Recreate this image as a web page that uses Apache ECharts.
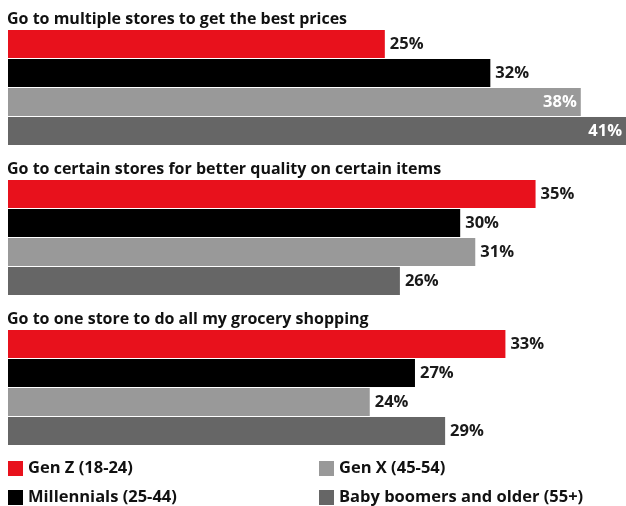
<!DOCTYPE html>
<html>
<head>
<meta charset="utf-8">
<script src="https://cdn.jsdelivr.net/npm/echarts@6/dist/echarts.min.js"></script>
<style>html,body{margin:0;padding:0;background:#fff;}#c{width:626px;height:506px;}</style>
</head>
<body>
<div id="c"></div>
<script>
var questions = [
  'Go to multiple stores to get the best prices',
  'Go to certain stores for better quality on certain items',
  'Go to one store to do all my grocery shopping'
];
var generations = ['Gen Z (18-24)', 'Millennials (25-44)', 'Gen X (45-54)', 'Baby boomers and older (55+)'];
var genZ = [25, 35, 33];
var millennials = [32, 30, 27];
var genX = [38, 31, 24];
var boomers = [41, 26, 29];
var colors = ['#e8111c', '#000000', '#999999', '#666666'];

(function () {
  var values = [genZ, millennials, genX, boomers];
  var FONT = '"Open Sans", sans-serif';
  var chart = echarts.init(document.getElementById('c'));
  var grids = [], xAxes = [], yAxes = [], series = [], titles = [], legends = [];
  var MAXV = 41;
  for (var g = 0; g < questions.length; g++) {
    var gridTop = 30 + 150 * g;
    grids.push({left: 8, width: 618, top: gridTop, height: 115});
    xAxes.push({gridIndex: g, type: 'value', min: 0, max: MAXV, show: false});
    yAxes.push({gridIndex: g, type: 'category', data: [questions[g]], inverse: true, show: false});
    titles.push({text: questions[g], left: 7, top: gridTop - 19, padding: 0,
      textStyle: {fontFamily: FONT, fontSize: 16, fontWeight: 'bold', color: '#111', lineHeight: 16}});
    for (var s = 0; s < generations.length; s++) {
      var v = values[s][g];
      var inside = v >= 38;
      series.push({
        name: generations[s], type: 'bar', xAxisIndex: g, yAxisIndex: g,
        barWidth: 28, barGap: '3.6%',
        itemStyle: {color: colors[s]},
        label: {show: true, position: inside ? 'insideRight' : 'right', distance: inside ? 4 : 5,
          formatter: '{c}%', fontFamily: FONT, fontSize: 16.5, fontWeight: 'bold',
          color: inside ? '#ffffff' : '#1a1a1a'},
        data: [v],
        silent: true, animation: false
      });
    }
  }
  var legendPos = [[8, 460], [8, 489], [319, 460], [319, 489]];
  for (var k = 0; k < generations.length; k++) {
    legends.push({
      data: [generations[k]], left: legendPos[k][0], top: legendPos[k][1],
      itemWidth: 15, itemHeight: 15, itemGap: 6, padding: 0, icon: 'rect', selectedMode: false,
      textStyle: {fontFamily: FONT, fontSize: 16.5, fontWeight: 'bold', color: '#111', lineHeight: 15}
    });
  }
  chart.setOption({
    animation: false,
    title: titles,
    grid: grids, xAxis: xAxes, yAxis: yAxes,
    legend: legends,
    series: series
  });
})();
</script>
</body>
</html>
